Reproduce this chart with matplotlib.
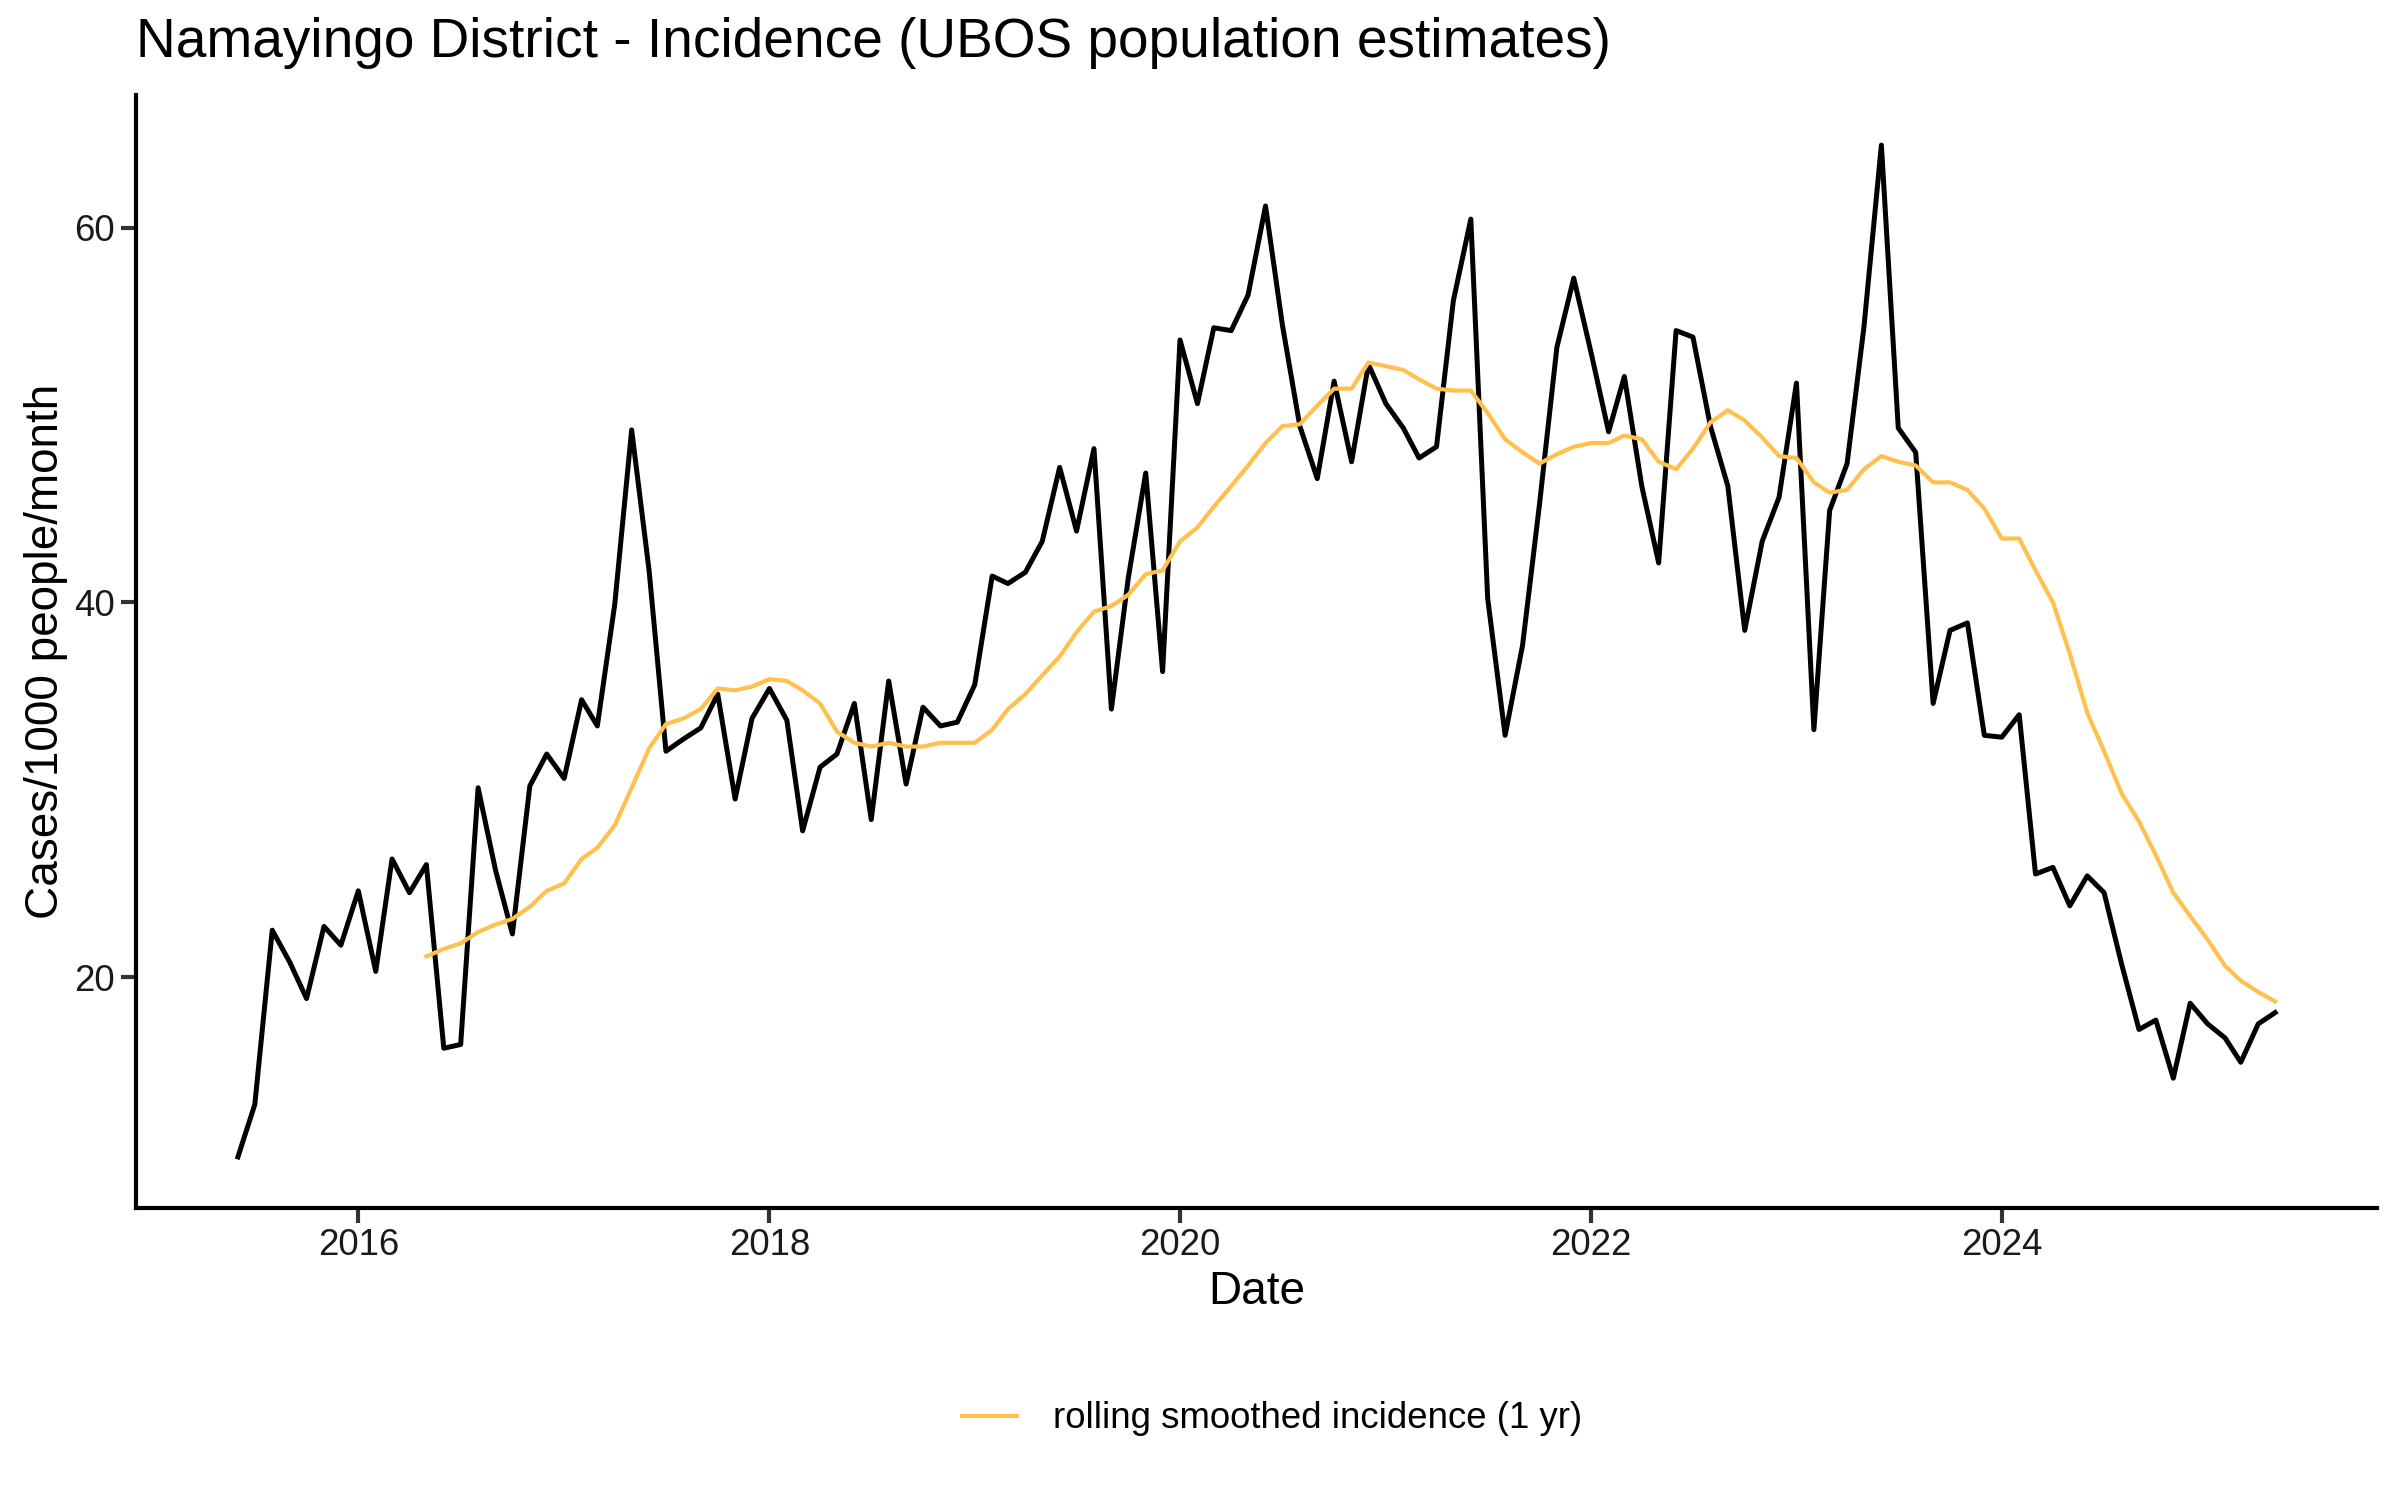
import numpy as np
import pandas as pd
import matplotlib
matplotlib.use("Agg")
import matplotlib.pyplot as plt
import matplotlib.dates as mdates

plt.rcParams['font.family'] = ['Liberation Sans', 'DejaVu Sans']

# monthly incidence, Jun 2015 - May 2025
start_month = "2015-06-01"
incidence = [
    10.4, 13.2, 22.5, 20.8, 18.85, 22.7, 21.7,                               # 2015
    24.6, 20.3, 26.3, 24.5, 26.0, 16.2, 16.4, 30.1, 25.7, 22.3, 30.2, 31.9,  # 2016
    30.6, 34.8, 33.4, 39.9, 49.2, 41.7, 32.05, 32.7, 33.3, 35.1, 29.5, 33.8, # 2017
    35.4, 33.7, 27.8, 31.2, 31.9, 34.6, 28.4, 35.8, 30.3, 34.4, 33.4, 33.6,  # 2018
    35.6, 41.4, 41.0, 41.6, 43.25, 47.2, 43.8, 48.2, 34.3, 41.3, 46.9, 36.3, # 2019
    54.0, 50.6, 54.65, 54.5, 56.4, 61.15, 54.8, 49.4, 46.6, 51.8, 47.5, 52.7, # 2020
    50.6, 49.3, 47.7, 48.3, 56.1, 60.45, 40.2, 32.9, 37.7, 45.2, 53.6, 57.3, # 2021
    53.3, 49.1, 52.05, 46.2, 42.1, 54.5, 54.15, 49.4, 46.2, 38.5, 43.25, 45.6, # 2022
    51.7, 33.2, 44.9, 47.4, 54.7, 64.4, 49.3, 48.0, 34.6, 38.5, 38.9, 32.9,  # 2023
    32.8, 34.0, 25.5, 25.85, 23.8, 25.4, 24.5, 20.7, 17.2, 17.7, 14.6, 18.6, # 2024
    17.5, 16.75, 15.45, 17.5, 18.1,                                          # 2025
]

# rolling 1 yr smoothed incidence, May 2016 - May 2025
smooth_start = "2016-05-01"
smoothed = [
    21.1, 21.5, 21.8, 22.4, 22.8, 23.1, 23.75, 24.6,                          # 2016
    25.0, 26.3, 26.9, 28.1, 30.1, 32.2, 33.5, 33.8, 34.3, 35.4, 35.3, 35.5,  # 2017
    35.9, 35.8, 35.3, 34.6, 33.1, 32.5, 32.3, 32.5, 32.3, 32.3, 32.5, 32.5,  # 2018
    32.5, 33.2, 34.3, 35.1, 36.1, 37.1, 38.4, 39.5, 39.8, 40.4, 41.5, 41.7,  # 2019
    43.25, 44.0, 45.1, 46.2, 47.3, 48.5, 49.4, 49.5, 50.5, 51.4, 51.4, 52.8, # 2020
    52.6, 52.4, 51.9, 51.4, 51.3, 51.3, 50.1, 48.7, 48.0, 47.4, 47.9, 48.3,  # 2021
    48.5, 48.5, 48.9, 48.7, 47.5, 47.1, 48.2, 49.6, 50.25, 49.7, 48.8, 47.8, # 2022
    47.7, 46.4, 45.85, 46.0, 47.1, 47.8, 47.5, 47.3, 46.4, 46.4, 46.0, 45.0, # 2023
    43.4, 43.4, 41.7, 40.0, 37.25, 34.1, 32.05, 29.8, 28.3, 26.5, 24.5, 23.25, # 2024
    22.0, 20.6, 19.8, 19.2, 18.7,                                            # 2025
]

dates = pd.date_range(start_month, periods=len(incidence), freq="MS")
smooth_dates = pd.date_range(smooth_start, periods=len(smoothed), freq="MS")

fig = plt.figure(figsize=(8, 5), dpi=300)
ax = fig.add_axes([0.0567, 0.195, 0.9337, 0.742])

ax.plot(dates, incidence, color="black", linewidth=1.2)
ax.plot(smooth_dates, smoothed, color="#FFC04D", linewidth=1.0,
        label="rolling smoothed incidence (1 yr)")

ax.margins(x=0.05, y=0.05)
ax.set_yticks([20, 40, 60])
ax.xaxis.set_major_locator(mdates.YearLocator(2))
ax.xaxis.set_major_formatter(mdates.DateFormatter("%Y"))

for side in ["top", "right"]:
    ax.spines[side].set_visible(False)
for side in ["left", "bottom"]:
    ax.spines[side].set_linewidth(1.0)
ax.tick_params(length=3.5, width=1.0, color="#333333", labelsize=8.8,
               labelcolor="#1a1a1a", pad=1.5)

ax.set_xlabel("Date", fontsize=11, labelpad=1.5)
ax.set_ylabel("Cases/1000 people/month", fontsize=11, labelpad=1.5)
ax.set_title("Namayingo District - Incidence (UBOS population estimates)",
             fontsize=13.2, loc="left", pad=9)

fig.legend(loc="center", bbox_to_anchor=(0.53, 0.054), frameon=False,
           fontsize=8.8, handlelength=1.5, handletextpad=1.0)

fig.savefig("out.png", dpi=300)
